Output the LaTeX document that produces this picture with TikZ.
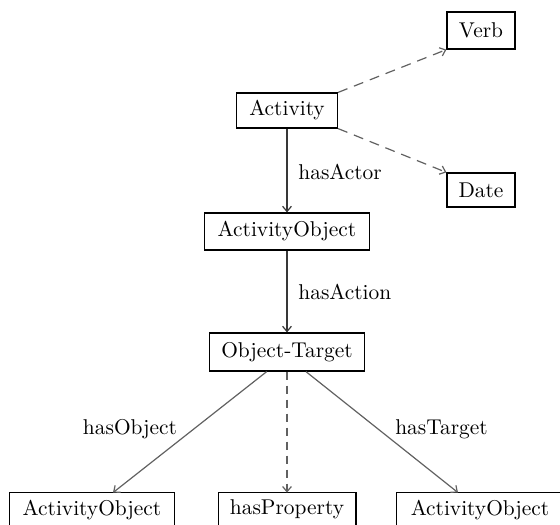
\documentclass[tikz,border=0pt]{standalone}
\usepackage{tikz}
\usetikzlibrary{arrows.meta,positioning}

\begin{document}
\begin{tikzpicture}[
  x=0.5pt,y=-0.5pt,
  font=\fontsize{10.7}{13}\selectfont,
  >={Straight Barb[length=2.6pt,width=4.4pt]},
  cls/.style={rectangle,draw=black,line width=0.6pt,inner sep=0pt,minimum height=18.5pt},
  cut/.style={rectangle,inner sep=0pt,minimum height=24pt,text depth=9.5pt},
  open/.style={line width=0.6pt,draw=black},
  link/.style={->,line width=0.6pt,draw=black!78},
  slant/.style={->,line width=0.6pt,draw=black!62},
  optlink/.style={->,line width=0.6pt,draw=black!62,dash pattern=on 5pt off 3.5pt},
  rel/.style={inner sep=0pt}
]
\useasboundingbox (0,0) rectangle (560,524);
% class boxes
\node[cls,minimum width=34pt] (verb) at (481,30.5) {Verb};
\node[cls,minimum width=50.5pt,minimum height=17.5pt] (act) at (287,110.5) {Activity};
\node[cls,minimum width=34pt,minimum height=17pt] (date) at (481,190) {Date};
\node[cls,minimum width=82.5pt] (actobj) at (287,231.5) {ActivityObject};
\node[cls,minimum width=77.5pt,minimum height=19pt] (objtgt) at (287,352) {Object-Target};
% bottom row runs off the lower edge
\node[cut,minimum width=82pt] (objl) at (92,517) {ActivityObject};
\node[cut,minimum width=68.5pt] (prop) at (287,517) {hasProperty};
\node[cut,minimum width=83pt] (objr) at (480,517) {ActivityObject};
\foreach \b in {objl,prop,objr}
  \draw[open] (\b.south west) -- (\b.north west) -- (\b.north east) -- (\b.south east);
% main chain
\draw[link] (act) -- (actobj);
\draw[link] (actobj) -- (objtgt);
\draw[optlink] (act.north east) -- (verb.south west);
\draw[optlink] (act.south east) -- (date.north west);
% branches
\draw[slant] (objtgt.224) -- ([xshift=10.5pt]objl.north);
\draw[optlink,dash pattern=on 4pt off 3pt] (objtgt) -- (prop);
\draw[slant] (objtgt.314) -- ([xshift=-11pt]objr.north);
% labels
\node[rel,anchor=west] (lactor) at (298,172) {hasActor};
\node[rel,anchor=west] (laction) at (298,292) {hasAction};
\node[rel] (lobj) at (130,429) {hasObject};
\node[rel] (ltgt) at (441.5,429) {hasTarget};
\end{tikzpicture}
\end{document}
